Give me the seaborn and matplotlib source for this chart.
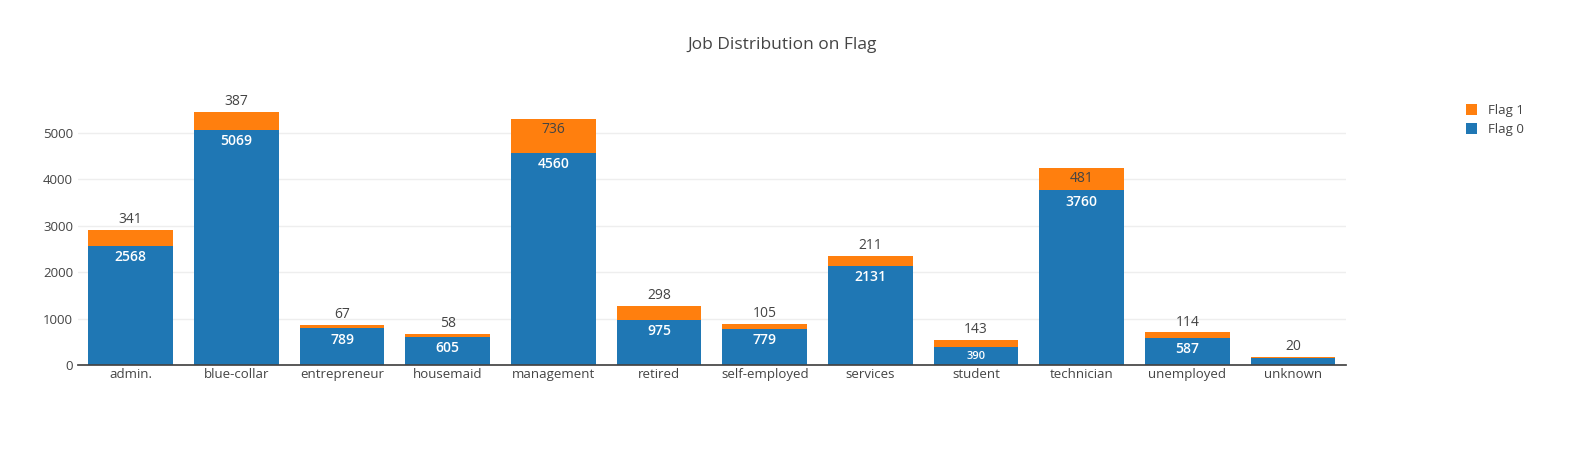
import matplotlib
matplotlib.use("Agg")
import matplotlib.pyplot as plt
import seaborn as sns
import pandas as pd

jobs = ["admin.", "blue-collar", "entrepreneur", "housemaid", "management", "retired",
        "self-employed", "services", "student", "technician", "unemployed", "unknown"]
flag0 = [2568, 5069, 789, 605, 4560, 975, 779, 2131, 390, 3760, 587, 148]
flag1 = [341, 387, 67, 58, 736, 298, 105, 211, 143, 481, 114, 20]

sns.set_theme(style="white")
plt.rcParams['font.family'] = ['Open Sans', 'DejaVu Sans']

df = pd.DataFrame({"job": jobs, "f0": flag0, "f1": flag1})
df["total"] = df.f0 + df.f1

fig = plt.figure(figsize=(15.89, 4.5), dpi=100)
ax = fig.add_axes([0.049, 0.189, 0.798, 0.589])
blue, orange = "#1f77b4", "#ff7f0e"
sns.barplot(data=df, x="job", y="total", color=orange, width=0.8, ax=ax, saturation=1,
            label="Flag 1", linewidth=0)
sns.barplot(data=df, x="job", y="f0", color=blue, width=0.8, ax=ax, saturation=1,
            label="Flag 0", linewidth=0)

for i, (a, b) in enumerate(zip(flag0, flag1)):
    if a > 300:
        fs = 10 if a > 500 else 8
        ax.text(i, a - 90, str(a), ha="center", va="top", color="white", fontsize=fs, fontweight="semibold")
    t = a + b
    if b > 400:
        ax.text(i, t - 70, str(b), ha="center", va="top", color="#444444", fontsize=10)
    else:
        ax.text(i, t + 60, str(b), ha="center", va="bottom", color="#444444", fontsize=10)

ax.set_ylim(0, 5710)
ax.set_xlim(-0.5, 11.5)
ax.set_yticks([0, 1000, 2000, 3000, 4000, 5000])
ax.yaxis.grid(True, color="#eeeeee", linewidth=1)
ax.set_axisbelow(True)
for s in ["top", "right", "left"]:
    ax.spines[s].set_visible(False)
ax.spines["bottom"].set_color("#444444")
ax.set_xlabel("")
ax.set_ylabel("")
ax.tick_params(axis="both", labelsize=9.5, colors="#444444", length=0)
ax.tick_params(axis="x", pad=2)

fig.text(0.492, 0.9, "Job Distribution on Flag", ha="center", va="center", fontsize=12.5, color="#444444")
h, l = ax.get_legend_handles_labels()
ax.legend(h, l, loc="upper left", bbox_to_anchor=(1.085, 1.03), frameon=False,
          fontsize=9.5, handlelength=0.9, handleheight=0.9, labelcolor="#444444")
fig.savefig("out.png", dpi=100)
